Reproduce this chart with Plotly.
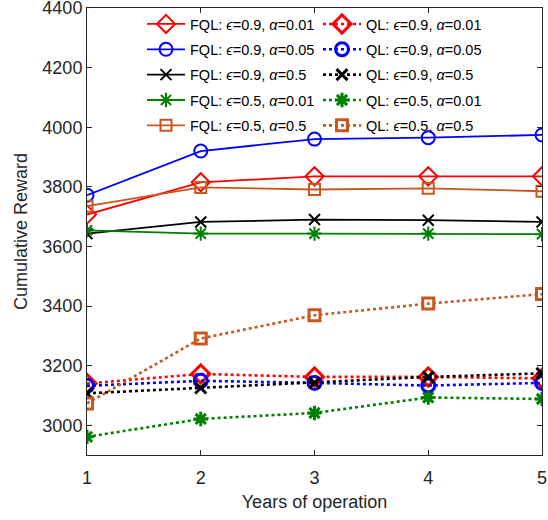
import plotly.graph_objects as go

years = [1, 2, 3, 4, 5]

fql_e09_a001 = [3707, 3815, 3835, 3835, 3835]
fql_e09_a005 = [3772, 3920, 3960, 3965, 3974]
fql_e09_a05 = [3643, 3682, 3690, 3688, 3682]
fql_e05_a001 = [3654, 3643, 3643, 3643, 3641]
fql_e05_a05 = [3735, 3798, 3791, 3795, 3785]

ql_e09_a001 = [3140, 3172, 3162, 3162, 3157]
ql_e09_a005 = [3132, 3149, 3142, 3133, 3142]
ql_e09_a05 = [3107, 3125, 3142, 3162, 3174]
ql_e05_a001 = [2961, 3021, 3041, 3093, 3088]
ql_e05_a05 = [3073, 3291, 3369, 3408, 3440]

labels_fql = ["FQL: <i>ϵ</i>=0.9, <i>α</i>=0.01", "FQL: <i>ϵ</i>=0.9, <i>α</i>=0.05",
              "FQL: <i>ϵ</i>=0.9, <i>α</i>=0.5", "FQL: <i>ϵ</i>=0.5, <i>α</i>=0.01",
              "FQL: <i>ϵ</i>=0.5, <i>α</i>=0.5"]
labels_ql = ["QL: <i>ϵ</i>=0.9, <i>α</i>=0.01", "QL: <i>ϵ</i>=0.9, <i>α</i>=0.05",
             "QL: <i>ϵ</i>=0.9, <i>α</i>=0.5", "QL: <i>ϵ</i>=0.5, <i>α</i>=0.01",
             "QL: <i>ϵ</i>=0.5, <i>α</i>=0.5"]
yticks = [3000, 3200, 3400, 3600, 3800, 4000, 4200, 4400]

fql = [fql_e09_a001, fql_e09_a005, fql_e09_a05, fql_e05_a001, fql_e05_a05]
ql = [ql_e09_a001, ql_e09_a005, ql_e09_a05, ql_e05_a001, ql_e05_a05]

colors = ["#ff0000", "#0000ff", "#000000", "#008000", "#c8561e"]
symbols = ["diamond-open", "circle-open", "x-thin-open", "asterisk-open", "square-open"]
sizes = [14, 13, 11, 12, 11]

fig = go.Figure()
for i in range(5):
    fig.add_trace(go.Scatter(
        x=years, y=fql[i], name=labels_fql[i], mode="lines+markers",
        legend="legend", legendgroup="f%d" % i,
        line=dict(color=colors[i], width=1.8, dash="solid"),
        marker=dict(symbol=symbols[i], size=sizes[i], color=colors[i],
                    line=dict(color=colors[i], width=2)),
    ))
for i in range(5):
    fig.add_trace(go.Scatter(
        x=years, y=ql[i], name=labels_ql[i], mode="lines+markers",
        legend="legend2", legendgroup="q%d" % i,
        line=dict(color=colors[i], width=2.6, dash="dot"),
        marker=dict(symbol=symbols[i], size=sizes[i], color=colors[i],
                    line=dict(color=colors[i], width=3)),
    ))

axis_common = dict(
    showline=True, linecolor="#262626", linewidth=1, mirror="ticks",
    ticks="inside", ticklen=5, tickcolor="#262626", showgrid=False, zeroline=False,
    ticklabeloverflow="allow", automargin=False,
    tickfont=dict(family="Liberation Sans, Arial", size=18, color="#262626"),
)

legend_common = dict(orientation="v", yanchor="top", xanchor="left",
                     bgcolor="rgba(0,0,0,0)", borderwidth=0,
                     font=dict(family="Liberation Sans, Arial", size=14.5, color="#000000"),
                     itemwidth=38, tracegroupgap=3.5)

fig.update_layout(
    width=548, height=520,
    margin=dict(l=87, r=6, t=8, b=65),
    paper_bgcolor="white", plot_bgcolor="white",
    font=dict(family="Liberation Sans, Arial", color="#262626"),
    xaxis=dict(range=[1, 5], tickvals=years, ticklabelstandoff=6,
               title=dict(text="Years of operation", font=dict(size=18, color="#262626"), standoff=8),
               **axis_common),
    yaxis=dict(range=[2900, 4400], tickvals=yticks,
               title=dict(text="Cumulative Reward", font=dict(size=18, color="#262626"), standoff=10),
               **axis_common),
    legend=dict(x=(142 - 87) / 455, y=1.0, **legend_common),
    legend2=dict(x=(318 - 87) / 455, y=1.0, **legend_common),
    showlegend=True,
)

fig.write_html("out.html")
